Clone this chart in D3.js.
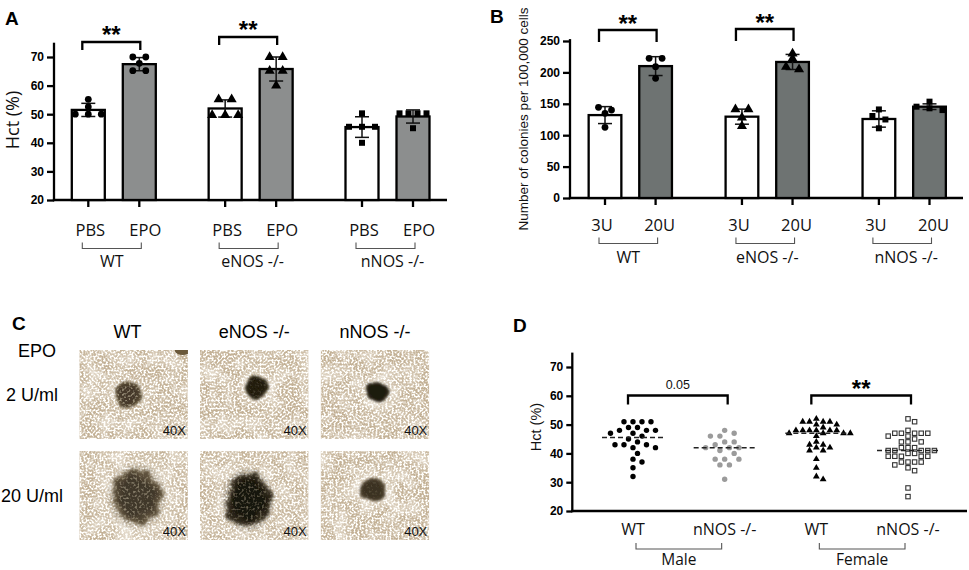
<!DOCTYPE html>
<html><head><meta charset="utf-8">
<script src="https://cdn.jsdelivr.net/npm/d3@7"></script>
<style>body{margin:0;background:#fff}svg{display:block}</style>
</head><body>
<svg id="fig" width="969" height="570" xmlns="http://www.w3.org/2000/svg"></svg>
<script>
// ================= DATA =================
// Panel A : Hct (%) after PBS / EPO
const groupsA = ["WT", "eNOS -/-", "nNOS -/-"];
const treatA = ["PBS", "EPO"];
const hctMeanA = [[51.5, 67.5], [52.0, 65.8], [45.5, 49.2]];
const hctSdA = [[2.3, 2.3], [3.0, 4.2], [3.6, 2.3]];
const hctPointsA = [
  [[55.2, 52.6, 50, 50, 50], [70, 70, 67.8, 65.2, 65.2]],
  [[55.2, 55.2, 49.7, 49.7, 49.7], [70, 70, 65.2, 65.2, 60]],
  [[50.3, 45.6, 45.6, 45.6, 40], [50.3, 50.3, 50.3, 50.3, 45.1]]
];
const ticksA = [20, 30, 40, 50, 60, 70];
const sigA = [{group: 0, label: "**"}, {group: 1, label: "**"}];

// Panel B : colonies per 100,000 cells
const groupsB = ["WT", "eNOS -/-", "nNOS -/-"];
const doseB = ["3U", "20U"];
const colMeanB = [[132, 210], [129.5, 216.6], [125.8, 145.4]];
const colSdB = [[13.5, 15], [12, 12], [13, 4.5]];
const colPointsB = [
  [[144.4, 140, 134.8, 112.5], [222.4, 222.4, 209, 190.5]],
  [[141, 141, 128, 114.6], [230, 222, 209, 205]],
  [[141, 130.6, 125, 111], [153.4, 145.4, 142.8, 140]]
];
const ticksB = [0, 50, 100, 150, 200, 250];
const sigB = [{group: 0, label: "**"}, {group: 1, label: "**"}];

// Panel C : colony images
const genotypesC = ["WT", "eNOS -/-", "nNOS -/-"];
const dosesC = ["2 U/ml", "20 U/ml"];
const colonyDiamC = [[0.25, 0.21, 0.21], [0.45, 0.40, 0.25]]; // fraction of field width
const magC = "40X";

// Panel D : Hct (%) by sex / genotype
const catsD = ["WT", "nNOS -/-", "WT ", "nNOS -/- "];
const sexD = ["Male", "Female"];
const hctMaleWT = [51, 51, 51, 51, 49, 49, 48, 48, 48, 47, 47, 46, 45, 44, 43, 43, 43, 42, 42, 40, 38, 37, 35, 32];
const hctMaleNNOS = [48, 47, 46, 46, 44, 44, 43, 42, 42, 42, 41, 40, 38, 38, 38, 36, 36, 31];
const hctFemaleWT = [52, 51, 51, 51, 51, 50, 50, 49, 48, 48, 48, 48, 48, 48, 47, 47, 47, 47, 46, 44, 43, 43, 42, 42, 41, 41, 38, 35, 32, 31];
const hctFemaleNNOS = [52, 51, 48, 47, 47, 47, 47, 47, 46, 46, 45, 44, 44, 44, 42, 42, 42, 41, 41, 41, 41, 41, 40, 40, 39, 39, 39, 39, 39, 37, 37, 37, 37, 36, 35, 34, 28, 25];
const ticksD = [20, 30, 40, 50, 60, 70];
const sigD = [{pair: [0, 1], label: "0.05"}, {pair: [2, 3], label: "**"}];

// ================= STYLE =================
const ARIAL = "'Liberation Sans', Arial, sans-serif";
const SANS = "'Open Sans', 'Liberation Sans', sans-serif";
const AXW = 2.3;

const svg = d3.select("#fig");
const defs = svg.append("defs");

function letter(t, x, y) {
  svg.append("text").attr("x", x).attr("y", y).text(t)
    .attr("font-family", ARIAL).attr("font-weight", "bold").attr("font-size", 19);
}

// column-scatter layout: rows of near-equal values spread symmetrically
function swarm(values, y, thr, spacing, maxW) {
  const pts = values.map(v => ({v})).sort((a, b) => b.v - a.v);
  const rows = []; let cur = null;
  pts.forEach(p => {
    const py = y(p.v);
    if (cur && py - cur.y0 < thr) cur.items.push(p);
    else { cur = {y0: py, items: [p]}; rows.push(cur); }
  });
  rows.forEach(r => {
    const n = r.items.length;
    const s = n > 1 ? Math.min(spacing, maxW / (n - 1)) : 0;
    r.items.forEach((p, i) => p.dx = (i - (n - 1) / 2) * s);
  });
  return pts;
}
// collision-based beeswarm
function beeswarm(values, y, sx, sy) {
  const pts = values.map(v => ({v, py: y(v)})).sort((a, b) => b.v - a.v);
  const placed = [];
  pts.forEach(p => {
    for (let k = 0; k < 400; k++) {
      const off = k === 0 ? 0 : (k % 2 ? 1 : -1) * Math.ceil(k / 2) * sx / 2;
      const ok = placed.every(q => {
        const dx = (q.dx - off) / sx, dy = (q.py - p.py) / sy;
        return dx * dx + dy * dy >= 0.999;
      });
      if (ok) { p.dx = off; break; }
    }
    placed.push(p);
  });
  return pts;
}

const shapes = [d3.symbolCircle, d3.symbolTriangle, d3.symbolSquare];

function barPanel(c) {
  const g = svg.append("g");
  const y = d3.scaleLinear().domain(c.yDomain).range([c.yBottom, c.yTop]);
  const gx = d3.scalePoint().domain(c.groups).range(c.groupRange);
  const sx = d3.scalePoint().domain(c.subs).range([-c.subHalf, c.subHalf]);
  const cx = (gi, si) => gx(c.groups[gi]) + sx(c.subs[si]);

  const ya = g.append("g").attr("transform", `translate(${c.axisX},0)`)
    .call(d3.axisLeft(y).tickValues(c.ticks).tickSize(7).tickPadding(3).tickFormat(d3.format("d")));
  ya.select(".domain").remove();
  ya.selectAll("line").attr("stroke", "#000").attr("stroke-width", AXW);
  ya.selectAll("text").attr("font-family", ARIAL).attr("font-weight", "bold")
    .attr("font-size", 12).attr("fill", "#000");
  g.append("line").attr("x1", c.axisX).attr("x2", c.axisX)
    .attr("y1", y(c.yDomain[1])).attr("y2", c.yBottom + AXW / 2)
    .attr("stroke", "#000").attr("stroke-width", AXW);
  g.append("line").attr("x1", c.axisX - AXW / 2).attr("x2", c.xEnd)
    .attr("y1", c.yBottom).attr("y2", c.yBottom)
    .attr("stroke", "#000").attr("stroke-width", AXW);

  c.groups.forEach((grp, gi) => {
    c.subs.forEach((s, si) => {
      const x = cx(gi, si);
      const m = c.means[gi][si], sd = c.sds[gi][si];
      g.append("rect").attr("x", x - c.barW / 2).attr("y", y(m))
        .attr("width", c.barW).attr("height", c.yBottom - y(m))
        .attr("fill", si === 0 ? "#fff" : c.fill).attr("stroke", "#000").attr("stroke-width", AXW);
      g.append("line").attr("x1", x).attr("x2", x).attr("y1", y(m - sd)).attr("y2", y(m + sd))
        .attr("stroke", "#111").attr("stroke-width", 1.5);
      [m - sd, m + sd].forEach(v => g.append("line").attr("x1", x - 7).attr("x2", x + 7)
        .attr("y1", y(v)).attr("y2", y(v)).attr("stroke", "#111").attr("stroke-width", 1.5));
      const pts = swarm(c.points[gi][si], y, 4.5, 13, 27);
      g.selectAll(null).data(pts).enter().append("path")
        .attr("d", d3.symbol().type(shapes[gi]).size(gi === 1 ? 44 : 36))
        .attr("transform", p => `translate(${x + p.dx},${y(p.v)})`)
        .attr("fill", "#000");
      g.append("line").attr("x1", x).attr("x2", x).attr("y1", c.yBottom).attr("y2", c.yBottom + 7)
        .attr("stroke", "#000").attr("stroke-width", AXW);
      g.append("text").attr("x", x + c.labelDx[si]).attr("y", c.labelY).attr("text-anchor", "middle")
        .attr("font-family", SANS).attr("font-size", 16.5).attr("fill", "#111").text(s);
    });
    const x1 = cx(gi, 0) - 6, x2 = cx(gi, 1) + 2;
    g.append("path").attr("d", `M${x1},${c.gbY - 6}V${c.gbY}H${x2}V${c.gbY - 6}`)
      .attr("fill", "none").attr("stroke", "#555").attr("stroke-width", 1.1);
    g.append("text").attr("x", (x1 + x2) / 2 + c.groupDx[gi]).attr("y", c.gbLabelY).attr("text-anchor", "middle")
      .attr("font-family", SANS).attr("font-size", 16).attr("fill", "#111").text(grp);
  });

  c.sig.forEach((s, k) => {
    const x1 = cx(s.group, 0) - 6, x2 = cx(s.group, 1) + 1;
    const yb = c.sigY[k];
    g.append("path").attr("d", `M${x1},${yb + c.sigDrop}V${yb}H${x2}V${yb + c.sigDrop}`)
      .attr("fill", "none").attr("stroke", "#000").attr("stroke-width", AXW);
    g.append("text").attr("x", (x1 + x2) / 2).attr("y", yb + c.sigTextDy).attr("text-anchor", "middle")
      .attr("font-family", ARIAL).attr("font-weight", "bold").attr("font-size", 24).text(s.label);
  });

  g.append("text").attr("transform", `translate(${c.yLabelX},${c.yLabelY}) rotate(-90)`)
    .attr("text-anchor", "middle").attr("font-family", c.yLabelFont).attr("font-size", c.yLabelSize)
    .attr("fill", "#111").text(c.yLabel);
}

// ---------- Panel A ----------
letter("A", 5, 25);
barPanel({
  groups: groupsA, subs: treatA, means: hctMeanA, sds: hctSdA, points: hctPointsA,
  yDomain: [20, 75], yBottom: 200, yTop: 42.7, ticks: ticksA,
  axisX: 54, xEnd: 447, groupRange: [113.8, 387.5], subHalf: 25.5, barW: 33,
  fill: "#8c8e8e", labelY: 236, labelDx: [2, 6],
  gbY: 248.5, gbLabelY: 267, groupDx: [0, 4, 7],
  sig: sigA, sigY: [42, 37], sigDrop: 8, sigTextDy: 1,
  yLabel: "Hct (%)", yLabelX: 19, yLabelY: 120, yLabelFont: SANS, yLabelSize: 18
});

// ---------- Panel B ----------
letter("B", 490, 23);
barPanel({
  groups: groupsB, subs: doseB, means: colMeanB, sds: colSdB, points: colPointsB,
  yDomain: [0, 253], yBottom: 198, yTop: 39.1, ticks: ticksB,
  axisX: 570, xEnd: 963, groupRange: [630.3, 904.2], subHalf: 25.3, barW: 32.7,
  fill: "#6e7372", labelY: 231, labelDx: [-3, 4],
  gbY: 243.5, gbLabelY: 263, groupDx: [0, 2, 4],
  sig: sigB, sigY: [30, 29], sigDrop: 12, sigTextDy: 2,
  yLabel: "Number of colonies per 100,000 cells", yLabelX: 528, yLabelY: 119,
  yLabelFont: ARIAL, yLabelSize: 13.5
});

// ---------- Panel C ----------
letter("C", 12, 330);
(function () {
  const g = svg.append("g");
  const col = d3.scaleBand().domain(genotypesC).range([79.3, 429.3]).paddingInner(0.1);
  const row = d3.scaleBand().domain(dosesC).range([350, 540]).paddingInner(0.12);
  const sizeScale = d3.scaleLinear().domain([0, 1]).range([0, col.bandwidth()]);
  const centers = [[[0.45, 0.5], [0.52, 0.42], [0.52, 0.47]], [[0.53, 0.51], [0.44, 0.55], [0.48, 0.44]]];
  const aspect = [[1, 1, 0.87], [1.12, 1.2, 0.82]];
  const coreDark = [["#45392a", "#201b10", "#1e1a10"], ["#41372a", "#16130b", "#3b3224"]];
  const coreEdge = [["#65573d", "#3b3322", "#3a3222"], ["#6b5d44", "#3d3424", "#5a4d38"]];
  const fuzzy = [[0, 0, 0], [1, 1, 0]];
  const mottle = [[0.9, 0.1, 0], [0.5, 0.25, 0.1]];
  const haloOp = [[0.25, 0.85, 0.9], [0.7, 0.5, 0.85]];

  const hg = defs.append("radialGradient").attr("id", "halo");
  hg.append("stop").attr("offset", "0%").attr("stop-color", "#fffdf8").attr("stop-opacity", 0.7);
  hg.append("stop").attr("offset", "55%").attr("stop-color", "#fffdf8").attr("stop-opacity", 0.4);
  hg.append("stop").attr("offset", "100%").attr("stop-color", "#fffdf8").attr("stop-opacity", 0);

  genotypesC.forEach(gt => g.append("text").attr("x", col(gt) + col.bandwidth() / 2 - (gt === "WT" ? 6 : 0))
    .attr("y", 338).attr("text-anchor", "middle").attr("font-family", ARIAL).attr("font-size", 18).text(gt));
  g.append("text").attr("x", 37).attr("y", 357).attr("text-anchor", "middle")
    .attr("font-family", ARIAL).attr("font-size", 18).text("EPO");
  dosesC.forEach(d => g.append("text").attr("x", 32).attr("y", row(d) + row.bandwidth() / 2 + 6.5)
    .attr("text-anchor", "middle").attr("font-family", ARIAL).attr("font-size", 18).text(d));

  dosesC.forEach((d, ri) => genotypesC.forEach((gt, ci) => {
    const x0 = col(gt), y0 = row(d), w = col.bandwidth(), h = row.bandwidth();
    const id = `p${ri}${ci}`;
    defs.append("clipPath").attr("id", "clip" + id).append("rect")
      .attr("x", x0).attr("y", y0).attr("width", w).attr("height", h);
    // white speckles (cells)
    const f = defs.append("filter").attr("id", "spk" + id).attr("filterUnits", "userSpaceOnUse")
      .attr("x", x0).attr("y", y0).attr("width", w).attr("height", h);
    f.append("feTurbulence").attr("type", "fractalNoise").attr("baseFrequency", 0.5)
      .attr("numOctaves", 2).attr("seed", 7 + ri * 3 + ci * 11).attr("result", "n");
    f.append("feColorMatrix").attr("in", "n").attr("type", "matrix")
      .attr("values", "0 0 0 0 1  0 0 0 0 0.99  0 0 0 0 0.96  6.5 0 0 0 -2.9").attr("result", "c");
    f.append("feGaussianBlur").attr("in", "c").attr("stdDeviation", 0.3);
    // coarse light variation
    const f2 = defs.append("filter").attr("id", "var" + id).attr("filterUnits", "userSpaceOnUse")
      .attr("x", x0).attr("y", y0).attr("width", w).attr("height", h);
    f2.append("feTurbulence").attr("type", "fractalNoise").attr("baseFrequency", 0.06)
      .attr("numOctaves", 2).attr("seed", 31 + ri * 4 + ci * 7).attr("result", "n");
    f2.append("feColorMatrix").attr("in", "n").attr("type", "matrix")
      .attr("values", "0 0 0 0 1  0 0 0 0 0.98  0 0 0 0 0.94  2.2 0 0 0 -0.85");
    // colony blob
    const fb = defs.append("filter").attr("id", "blob" + id).attr("x", "-60%").attr("y", "-60%")
      .attr("width", "220%").attr("height", "220%");
    fb.append("feTurbulence").attr("type", "fractalNoise").attr("baseFrequency", 0.08)
      .attr("numOctaves", 2).attr("seed", 3 + ri * 5 + ci).attr("result", "t");
    fb.append("feDisplacementMap").attr("in", "SourceGraphic").attr("in2", "t")
      .attr("scale", 5 + 9 * fuzzy[ri][ci]).attr("xChannelSelector", "R").attr("yChannelSelector", "G").attr("result", "d");
    fb.append("feGaussianBlur").attr("in", "d").attr("stdDeviation", 1 + 0.8 * fuzzy[ri][ci]).attr("result", "db");
    fb.append("feTurbulence").attr("type", "fractalNoise").attr("baseFrequency", 0.45)
      .attr("numOctaves", 1).attr("seed", 21 + ri * 2 + ci).attr("result", "fine");
    fb.append("feColorMatrix").attr("in", "fine").attr("type", "matrix")
      .attr("values", `0 0 0 0 0.52  0 0 0 0 0.45  0 0 0 0 0.31  ${3.5 * mottle[ri][ci]} 0 0 0 ${-1.8 * mottle[ri][ci]}`).attr("result", "spots");
    fb.append("feComposite").attr("in", "spots").attr("in2", "db").attr("operator", "in").attr("result", "si");
    const mg = fb.append("feMerge");
    mg.append("feMergeNode").attr("in", "db");
    mg.append("feMergeNode").attr("in", "si");
    // speckled fading outer zone
    const ff = defs.append("filter").attr("id", "fuzz" + id).attr("x", "-40%").attr("y", "-40%")
      .attr("width", "180%").attr("height", "180%");
    ff.append("feTurbulence").attr("type", "fractalNoise").attr("baseFrequency", 0.5)
      .attr("numOctaves", 2).attr("seed", 40 + ri + ci).attr("result", "t");
    ff.append("feColorMatrix").attr("in", "t").attr("type", "matrix")
      .attr("values", "0 0 0 0 0  0 0 0 0 0  0 0 0 0 0  4 0 0 0 -1.5").attr("result", "m");
    ff.append("feComposite").attr("in", "SourceGraphic").attr("in2", "m").attr("operator", "in").attr("result", "c");
    ff.append("feGaussianBlur").attr("in", "c").attr("stdDeviation", 0.6);
    const cg = defs.append("radialGradient").attr("id", "core" + id);
    cg.append("stop").attr("offset", "0%").attr("stop-color", coreDark[ri][ci]);
    cg.append("stop").attr("offset", "65%").attr("stop-color", coreDark[ri][ci]);
    cg.append("stop").attr("offset", "100%").attr("stop-color", coreEdge[ri][ci]);
    const og = defs.append("radialGradient").attr("id", "outer" + id);
    og.append("stop").attr("offset", "0%").attr("stop-color", coreEdge[ri][ci]).attr("stop-opacity", 1);
    og.append("stop").attr("offset", "60%").attr("stop-color", coreEdge[ri][ci]).attr("stop-opacity", 0.85);
    og.append("stop").attr("offset", "100%").attr("stop-color", coreEdge[ri][ci]).attr("stop-opacity", 0);

    const gp = g.append("g").attr("clip-path", `url(#clip${id})`);
    gp.append("rect").attr("x", x0).attr("y", y0).attr("width", w).attr("height", h).attr("fill", "#c3b196");
    gp.append("rect").attr("x", x0).attr("y", y0).attr("width", w).attr("height", h)
      .attr("fill", "#fff").attr("filter", `url(#var${id})`).attr("opacity", 0.5);
    gp.append("rect").attr("x", x0).attr("y", y0).attr("width", w).attr("height", h)
      .attr("fill", "#fff").attr("filter", `url(#spk${id})`);
    const r = sizeScale(colonyDiamC[ri][ci]) / 2;
    const ccx = x0 + w * centers[ri][ci][0], ccy = y0 + h * centers[ri][ci][1];
    const ry = r * aspect[ri][ci];
    gp.append("ellipse").attr("cx", ccx).attr("cy", ccy).attr("rx", r * 2.0).attr("ry", ry * 2.0)
      .attr("fill", "url(#halo)").attr("opacity", haloOp[ri][ci]);
    if (fuzzy[ri][ci] > 0) {
      gp.append("ellipse").attr("cx", ccx).attr("cy", ccy).attr("rx", r * 1.3).attr("ry", ry * 1.3)
        .attr("fill", `url(#outer${id})`).attr("filter", `url(#fuzz${id})`);
    }
    gp.append("ellipse").attr("cx", ccx).attr("cy", ccy).attr("rx", r).attr("ry", ry)
      .attr("fill", `url(#core${id})`).attr("filter", `url(#blob${id})`);
    if (ri === 0 && ci === 0) {
      gp.append("ellipse").attr("cx", x0 + w - 5).attr("cy", y0 + 1).attr("rx", 8).attr("ry", 4)
        .attr("fill", "#6a583a");
    }
    g.append("text").attr("x", x0 + w - 2).attr("y", y0 + h - 4).attr("text-anchor", "end")
      .attr("font-family", ARIAL).attr("font-size", 13).attr("fill", "#111").text(magC);
  }));
})();

// ---------- Panel D ----------
letter("D", 513, 332);
(function () {
  const g = svg.append("g");
  const axisX = 572.3, yBottom = 511, xEnd = 967;
  const y = d3.scaleLinear().domain([20, 75]).range([yBottom, 352.6]);
  const x = d3.scalePoint().domain(catsD).range([633, 908]);
  const series = [hctMaleWT, hctMaleNNOS, hctFemaleWT, hctFemaleNNOS];
  const spX = [9, 9.5, 6.8, 6.6], spY = [6, 6, 5.5, 5];

  const ya = g.append("g").attr("transform", `translate(${axisX},0)`)
    .call(d3.axisLeft(y).tickValues(ticksD).tickSize(6).tickPadding(3).tickFormat(d3.format("d")));
  ya.select(".domain").remove();
  ya.selectAll("line").attr("stroke", "#000").attr("stroke-width", AXW);
  ya.selectAll("text").attr("font-family", ARIAL).attr("font-weight", "bold").attr("font-size", 12).attr("fill", "#000");
  g.append("line").attr("x1", axisX).attr("x2", axisX).attr("y1", y(75)).attr("y2", yBottom + AXW / 2)
    .attr("stroke", "#000").attr("stroke-width", AXW);
  g.append("line").attr("x1", axisX - AXW / 2).attr("x2", xEnd).attr("y1", yBottom).attr("y2", yBottom)
    .attr("stroke", "#000").attr("stroke-width", AXW);

  series.forEach((vals, i) => {
    const cx = x(catsD[i]);
    const pts = beeswarm(vals, y, spX[i], spY[i]);
    const sel = g.selectAll(null).data(pts).enter();
    if (i === 0 || i === 1) {
      sel.append("circle").attr("cx", p => cx + p.dx).attr("cy", p => y(p.v)).attr("r", 2.7)
        .attr("fill", i === 0 ? "#000" : "#9b9b9b");
    } else if (i === 2) {
      sel.append("path").attr("d", d3.symbol().type(d3.symbolTriangle).size(20))
        .attr("transform", p => `translate(${cx + p.dx},${y(p.v)})`).attr("fill", "#000");
    } else {
      sel.append("rect").attr("x", p => cx + p.dx - 2.2).attr("y", p => y(p.v) - 2.2)
        .attr("width", 4.4).attr("height", 4.4).attr("fill", "#fff")
        .attr("stroke", "#333").attr("stroke-width", 1.1);
    }
    const med = d3.median(vals);
    g.append("line").attr("x1", cx - 31).attr("x2", cx + 31).attr("y1", y(med)).attr("y2", y(med))
      .attr("stroke", "#222").attr("stroke-width", 1.5).attr("stroke-dasharray", "5,3");
    g.append("text").attr("x", cx).attr("y", 535).attr("text-anchor", "middle")
      .attr("font-family", SANS).attr("font-size", 16).attr("fill", "#111").text(catsD[i].trim());
  });

  sexD.forEach((s, k) => {
    const x1 = x(catsD[2 * k]) + 3, x2 = x(catsD[2 * k + 1]) - 3;
    g.append("path").attr("d", `M${x1},543V549H${x2}V543`).attr("fill", "none")
      .attr("stroke", "#555").attr("stroke-width", 1.1);
    g.append("text").attr("x", (x1 + x2) / 2).attr("y", 565).attr("text-anchor", "middle")
      .attr("font-family", SANS).attr("font-size", 15.5).attr("fill", "#111").text(s);
  });

  sigD.forEach((s, k) => {
    const x1 = x(catsD[s.pair[0]]) - 5, x2 = x(catsD[s.pair[1]]) + 3;
    const yb = 395.5;
    g.append("path").attr("d", `M${x1},${yb + 9}V${yb}H${x2}V${yb + 9}`).attr("fill", "none")
      .attr("stroke", "#000").attr("stroke-width", AXW);
    if (s.label === "**") {
      g.append("text").attr("x", (x1 + x2) / 2).attr("y", 397).attr("text-anchor", "middle")
        .attr("font-family", ARIAL).attr("font-weight", "bold").attr("font-size", 24).text(s.label);
    } else {
      g.append("text").attr("x", (x1 + x2) / 2).attr("y", 389).attr("text-anchor", "middle")
        .attr("font-family", ARIAL).attr("font-size", 12.5).attr("fill", "#111").text(s.label);
    }
  });

  g.append("text").attr("transform", `translate(541,427) rotate(-90)`).attr("text-anchor", "middle")
    .attr("font-family", ARIAL).attr("font-size", 14.5).attr("fill", "#111").text("Hct (%)");
})();
</script>
</body></html>
